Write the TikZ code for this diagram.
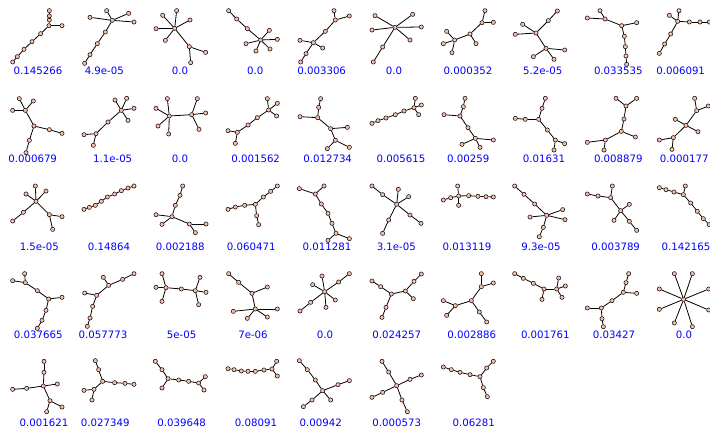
\documentclass[tikz,border=0pt]{standalone}
\usepackage{fontspec}
\setmainfont{DejaVu Sans}
\definecolor{peach}{RGB}{248,190,168}
\tikzset{
  vtx/.style={circle,draw=black,line width=0.5pt,fill=peach,minimum size=4.2pt,inner sep=0pt},
  lnk/.style={draw=black,line width=0.8pt},
  lbl/.style={text=blue,font=\fontsize{10.2}{12}\selectfont,inner sep=0pt}
}
\newcommand{\drawtree}[3]{%
  \foreach \n/\x/\y in {#2} {\node[vtx] (#1\n) at (\x,\y) {};}
  \foreach \s/\t in {#3} {\draw[lnk] (#1\s) -- (#1\t);}
}
\begin{document}
\begin{tikzpicture}[x=1pt,y=-1pt]
\useasboundingbox (0,0) rectangle (710,432);
\clip (0,0) rectangle (710,432);
% ---------- row 1, left
\begin{scope}[shift={(0pt,0pt)},x=0.33333pt,y=-0.33333pt]
\drawtree{ga}{a/148/32,b/148/48,j/148/60,c/147/77,d/186/77,e/122/101,f/96/125,g/72/148,h/52/170,i/38/186}{a/b,b/j,j/c,c/d,c/e,e/f,f/g,g/h,h/i}
\drawtree{gb}{a/337/61,b/270/52,c/320/32,d/386/40,e/402/66,f/316/96,g/292/131,h/270/164,i/254/190}{a/b,a/c,a/d,a/e,a/f,f/g,g/h,h/i}
\drawtree{gc}{a/524/85,b/488/46,c/530/32,d/570/60,e/468/86,f/496/121,g/568/140,h/617/157,i/572/188}{a/b,a/c,a/d,a/e,a/f,a/g,g/h,g/i}
\drawtree{gd}{a/686/32,b/710/57,c/742/86,d/782/120,e/808/91,f/832/118,g/810/147,h/768/153,i/738/131}{a/b,b/c,c/d,d/e,d/f,d/g,d/h,d/i}
\drawtree{ge}{a/1002/32,b/1006/60,c/1048/48,d/976/94,e/940/128,f/900/121,g/968/144,h/918/161,i/902/186}{a/b,b/c,b/d,d/e,e/f,e/g,e/h,h/i}
\node[lbl] (l1) at (114,213) {0.145266};
\node[lbl] (l2) at (313,213) {4.9e-05};
\node[lbl] (l3) at (540,213) {0.0};
\node[lbl] (l4) at (766,213) {0.0};
\node[lbl] (l5) at (965,213) {0.003306};
\end{scope}
% ---------- row 1, right
\begin{scope}[shift={(350pt,0pt)},x=0.33333pt,y=-0.33333pt]
\drawtree{gf}{a/135/82,b/75/47,c/188/43,d/214/81,e/66/90,f/180/120,g/98/141,h/70/186}{a/b,a/c,a/d,a/e,a/f,a/g,g/h}
\drawtree{gg}{a/405/32,b/396/68,c/430/67,d/360/102,e/378/131,f/314/120,g/290/94,h/280/131,i/306/158}{a/b,b/c,b/d,d/e,d/f,f/g,f/h,f/i}
\drawtree{gh}{a/622/33,b/595/62,c/558/99,d/518/73,e/496/103,f/588/145,g/644/150,h/550/170,i/612/178}{a/b,b/c,c/d,c/e,c/f,f/g,f/h,f/i}
\drawtree{gi}{a/712/54,b/750/32,c/765/57,d/815/77,e/860/68,f/823/109,g/826/140,h/828/168,i/830/193}{a/c,b/c,c/d,d/e,d/f,f/g,g/h,h/i}
\drawtree{gj}{a/983/64,b/958/46,c/987/32,d/1018/66,e/1050/66,f/1078/66,g/962/102,h/944/132,i/928/160}{a/b,a/c,a/d,d/e,e/f,a/g,g/h,h/i}
\node[lbl] (l6) at (132,213) {0.0};
\node[lbl] (l7) at (354,213) {0.000352};
\node[lbl] (l8) at (578,213) {5.2e-05};
\node[lbl] (l9) at (805,213) {0.033535};
\node[lbl] (l10) at (992,213) {0.006091};
\end{scope}
% ---------- row 2, left
\begin{scope}[shift={(0pt,-86pt)},x=0.33333pt,y=-0.33333pt]
\drawtree{gk}{a/76/73,b/58/38,c/100/45,d/38/73,e/102/120,f/148/131,g/186/142,h/88/163,i/78/200}{a/b,a/c,a/d,a/e,e/f,f/g,e/h,h/i}
\drawtree{gl}{a/364/73,b/345/42,c/380/37,d/402/67,e/384/103,f/324/108,g/288/143,h/252/146,i/280/178}{a/b,a/c,a/d,a/e,a/f,f/g,g/h,g/i}
\drawtree{gm}{a/508/90,b/502/38,c/468/67,d/474/120,e/506/144,f/575/86,g/592/38,h/617/81,i/597/130}{a/b,a/c,a/d,a/e,a/f,f/g,f/h,f/i}
\drawtree{gn}{a/802/38,b/806/72,c/832/52,d/830/90,e/772/95,f/744/117,g/712/139,h/684/134,i/706/172}{a/b,b/c,b/d,b/e,e/f,f/g,g/h,g/i}
\drawtree{go}{a/962/38,b/956/64,c/953/95,d/900/92,e/992/128,f/1042/124,g/1006/163,h/1048/184,i/982/188}{a/b,b/c,c/d,c/e,e/f,e/g,g/h,g/i}
\node[lbl] (l11) at (98,218) {0.000679};
\node[lbl] (l12) at (338,218) {1.1e-05};
\node[lbl] (l13) at (540,218) {0.0};
\node[lbl] (l14) at (767,218) {0.001562};
\node[lbl] (l15) at (983,218) {0.012734};
\end{scope}
% ---------- row 2, right
\begin{scope}[shift={(350pt,-86pt)},x=0.33333pt,y=-0.33333pt]
\drawtree{gp}{a/66/112,b/84/104,c/108/96,d/136/86,e/162/75,f/192/65,g/196/37,h/214/57,i/206/86}{a/b,b/c,c/d,d/e,e/f,f/g,f/h,f/i}
\drawtree{gq}{a/345/37,b/340/62,c/330/90,d/282/86,e/354/125,f/376/157,g/430/162,h/336/175,i/390/184}{a/b,b/c,c/d,c/e,e/f,f/g,f/h,f/i}
\drawtree{gr}{a/586/37,b/576/67,c/566/100,d/526/100,e/496/97,f/592/132,g/616/162,h/644/173,i/612/192}{a/b,b/c,c/d,d/e,c/f,f/g,g/h,g/i}
\drawtree{gs}{a/798/37,b/860/37,c/828/60,d/822/99,e/814/136,f/856/153,g/766/162,h/712/169,i/762/192}{a/c,b/c,c/d,d/e,e/f,e/g,g/h,g/i}
\drawtree{gt}{a/1034/37,b/1040/74,c/1075/60,d/1008/118,e/976/100,f/1044/137,g/970/155,h/928/162,i/966/190}{a/b,b/c,b/d,d/e,d/f,d/g,g/h,g/i}
\node[lbl] (l16) at (153,218) {0.005615};
\node[lbl] (l17) at (355,218) {0.00259};
\node[lbl] (l18) at (582,218) {0.01631};
\node[lbl] (l19) at (805,218) {0.008879};
\node[lbl] (l20) at (1003,218) {0.000177};
\end{scope}
% ---------- row 3, left
\begin{scope}[shift={(0pt,-172pt)},x=0.33333pt,y=-0.33333pt]
\drawtree{gu}{a/108/88,b/106/42,c/138/57,d/78/66,e/70/121,f/38/147,g/148/128,h/186/134,i/158/172}{a/b,a/c,a/d,a/e,e/f,a/g,g/h,g/i}
\drawtree{gv}{a/252/112,b/268/106,c/286/100,d/304/88,e/322/75,f/344/66,g/364/56,h/384/48,i/402/42}{a/b,b/c,c/d,d/e,e/f,f/g,g/h,h/i}
\drawtree{gw}{a/548/42,b/540/70,c/526/100,d/516/134,e/468/128,f/486/157,g/568/156,h/618/156,i/586/182}{a/b,b/c,c/d,d/e,d/f,d/g,g/h,g/i}
\drawtree{gx}{a/832/42,b/812/58,c/790/75,d/766/97,e/734/100,f/706/105,g/684/112,h/770/131,i/776/158}{a/b,b/c,c/d,d/e,e/f,f/g,d/h,h/i}
\drawtree{gy}{a/898/50,b/946/66,c/972/42,d/964/96,e/984/124,f/996/154,g/1008/184,h/1048/200,i/984/205}{a/b,b/c,b/d,d/e,e/f,f/g,g/h,g/i}
\node[lbl] (l21) at (118,225) {1.5e-05};
\node[lbl] (l22) at (327,225) {0.14864};
\node[lbl] (l23) at (541,225) {0.002188};
\node[lbl] (l24) at (754,225) {0.060471};
\node[lbl] (l25) at (981,225) {0.011281};
\end{scope}
% ---------- row 3, right
\begin{scope}[shift={(350pt,-172pt)},x=0.33333pt,y=-0.33333pt]
\drawtree{gz}{a/66/42,b/98/68,c/140/97,d/145/52,e/176/74,f/180/129,g/213/154,h/116/144,i/98/184}{a/b,b/c,c/d,c/e,c/f,f/g,c/h,h/i}
\drawtree{ha}{a/326/72,b/323/42,c/326/100,d/302/77,e/280/84,f/356/71,g/384/73,h/408/74,i/430/75}{a/b,a/c,a/d,d/e,a/f,f/g,g/h,h/i}
\drawtree{hb}{a/494/42,b/522/67,c/554/96,d/590/130,e/638/113,f/645/143,g/540/135,h/580/166,i/568/194}{a/b,b/c,c/d,d/e,d/f,d/g,d/h,h/i}
\drawtree{hc}{a/712/66,b/744/72,c/782/77,d/787/42,e/812/116,f/838/97,g/792/145,h/838/148,i/860/175}{a/b,b/c,c/d,c/e,e/f,e/g,e/h,h/i}
\drawtree{hd}{a/928/47,b/948/53,c/972/60,d/1000/68,e/1006/42,f/1022/93,g/1042/118,h/1060/140,i/1078/158}{a/b,b/c,c/d,d/e,d/f,f/g,g/h,h/i}
\node[lbl] (l26) at (139,225) {3.1e-05};
\node[lbl] (l27) at (351,225) {0.013119};
\node[lbl] (l28) at (573,225) {9.3e-05};
\node[lbl] (l29) at (797,225) {0.003789};
\node[lbl] (l30) at (1008,225) {0.142165};
\end{scope}
% ---------- row 4, left
\begin{scope}[shift={(0pt,-258pt)},x=0.33333pt,y=-0.33333pt]
\drawtree{he}{a/38/68,b/74/47,c/76/74,d/112/98,e/146/123,f/186/118,g/138/157,h/126/187,i/112/211}{a/c,b/c,c/d,d/e,e/f,e/g,g/h,h/i}
\drawtree{hf}{a/402/47,b/368/64,c/326/82,d/310/58,e/290/112,f/254/105,g/278/145,h/270/180,i/262/205}{a/b,b/c,c/d,c/e,e/f,e/g,g/h,h/i}
\drawtree{hg}{a/498/89,b/486/47,c/468/88,d/486/130,e/544/93,f/586/98,g/600/58,h/618/103,i/596/140}{a/b,a/c,a/d,a/e,e/f,f/g,f/h,f/i}
\drawtree{hh}{a/686/47,b/716/73,c/756/106,d/802/87,e/766/153,f/700/160,g/832/153,h/742/181,i/802/177}{a/b,b/c,c/d,c/e,e/f,e/g,e/h,e/i}
\drawtree{hi}{a/974/101,b/938/80,c/966/54,d/1006/126,e/978/148,f/1016/72,g/1048/47,h/932/133,i/900/159}{a/b,a/c,a/d,a/e,a/f,f/g,a/h,h/i}
\node[lbl] (l31) at (115,230) {0.037665};
\node[lbl] (l32) at (309,230) {0.057773};
\node[lbl] (l33) at (545,230) {5e-05};
\node[lbl] (l34) at (759,230) {7e-06};
\node[lbl] (l35) at (975,230) {0.0};
\end{scope}
% ---------- row 4, right
\begin{scope}[shift={(350pt,-258pt)},x=0.33333pt,y=-0.33333pt]
\drawtree{hj}{a/66/69,b/92/86,c/124/108,d/166/99,e/192/70,f/214/48,g/190/122,h/108/148,i/96/178}{a/b,b/c,c/d,d/e,e/f,d/g,c/h,h/i}
\drawtree{hk}{a/394/47,b/430/75,c/394/86,d/364/128,e/316/143,f/280/128,g/290/172,h/388/162,i/410/192}{a/c,b/c,c/d,d/e,e/f,e/g,d/h,h/i}
\drawtree{hl}{a/494/47,b/520/61,c/550/76,d/582/93,e/576/124,f/620/93,g/626/60,h/646/84,i/636/118}{a/b,b/c,c/d,d/e,d/f,f/g,f/h,f/i}
\drawtree{hm}{a/836/47,b/828/74,c/820/103,d/860/106,e/786/128,f/754/150,g/712/150,h/756/182,i/760/206}{a/b,b/c,c/d,c/e,e/f,f/g,f/h,h/i}
\node[lbl] (l36) at (140,230) {0.024257};
\node[lbl] (l37) at (365,230) {0.002886};
\node[lbl] (l38) at (586,230) {0.001761};
\node[lbl] (l39) at (792,230) {0.03427};
\end{scope}
\begin{scope}[shift={(630pt,-172pt)},x=0.33333pt,y=-0.33333pt]
\drawtree{hn}{a/161/382,b/133/305,c/187/305,d/88/351,e/236/351,f/88/412,g/236/414,h/133/453,i/187/464}{a/b,a/c,a/d,a/e,a/f,a/g,a/h,a/i}
\node[lbl] (l40) at (162,488) {0.0};
\end{scope}
% ---------- row 5, left
\begin{scope}[shift={(0pt,-344pt)},x=0.33333pt,y=-0.33333pt]
\drawtree{ho}{a/132/52,b/132/85,c/130/126,d/80/133,e/38/136,f/172/120,g/150/170,h/186/189,i/140/203}{a/b,b/c,c/d,d/e,c/f,c/g,g/h,g/i}
\drawtree{hp}{a/286/50,b/296/77,c/308/112,d/344/116,e/375/118,f/402/121,g/282/136,h/252/139,i/276/168}{a/b,b/c,c/d,d/e,e/f,c/g,g/h,g/i}
\drawtree{hq}{a/466/52,b/486/77,c/504/104,d/486/132,e/536/108,f/566/112,g/596/117,h/616/98,i/612/138}{a/b,b/c,c/d,c/e,e/f,f/g,g/h,g/i}
\drawtree{hr}{a/684/74,b/702/77,c/724/81,d/744/82,e/766/82,f/792/78,g/816/75,h/830/52,i/832/96}{a/b,b/c,c/d,d/e,e/f,f/g,g/h,g/i}
\drawtree{hs}{a/898/50,b/922/77,c/946/108,d/968/140,e/1014/122,f/1048/110,g/992/168,h/936/168,i/910/188}{a/b,b/c,c/d,d/e,e/f,d/g,d/h,h/i}
\node[lbl] (l41) at (132,236) {0.001621};
\node[lbl] (l42) at (316,236) {0.027349};
\node[lbl] (l43) at (545,236) {0.039648};
\node[lbl] (l44) at (768,236) {0.08091};
\node[lbl] (l45) at (962,236) {0.00942};
\end{scope}
% ---------- row 5, right
\begin{scope}[shift={(350pt,-344pt)},x=0.33333pt,y=-0.33333pt]
\drawtree{ht}{a/96/52,b/116/84,c/140/125,d/180/106,e/214/93,f/98/145,g/66/160,h/156/168,i/172/203}{a/b,b/c,c/d,d/e,c/f,f/g,c/h,h/i}
\drawtree{hu}{a/280/69,b/304/77,c/330/85,d/360/92,e/390/98,f/410/72,g/430/52,h/400/131,i/412/158}{a/b,b/c,c/d,d/e,e/f,f/g,e/h,h/i}
\node[lbl] (l46) at (140,236) {0.000573};
\node[lbl] (l47) at (371,236) {0.06281};
\end{scope}
\end{tikzpicture}
\end{document}
